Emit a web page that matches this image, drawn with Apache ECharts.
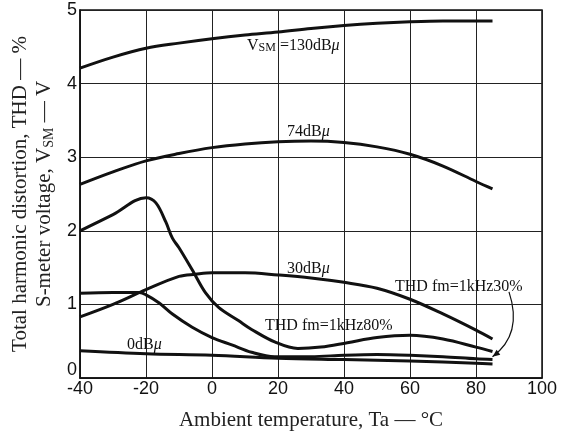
<!DOCTYPE html>
<html>
<head>
<meta charset="utf-8">
<script src="https://cdn.jsdelivr.net/npm/echarts@6/dist/echarts.min.js"></script>
<style>
  html, body { margin: 0; padding: 0; background: #fff; }
  #chart { width: 561px; height: 436px; }
</style>
</head>
<body>
<div id="chart"></div>
<script>
// axis ticks
const xTicks = [-40, -20, 0, 20, 40, 60, 80, 100]
const yTicks = [0, 1, 2, 3, 4, 5]

// V_SM at 130 dBu
const vsm130T = [-40, -30, -20, -10, 0, 10, 20, 30, 40, 50, 60, 70, 85]
const vsm130V = [4.21, 4.36, 4.48, 4.55, 4.61, 4.66, 4.70, 4.75, 4.79, 4.82, 4.84, 4.85, 4.85]

// V_SM at 74 dBu
const vsm74T = [-40, -30, -20, -10, 0, 10, 20, 30, 40, 50, 60, 70, 80, 85]
const vsm74V = [2.63, 2.80, 2.95, 3.05, 3.13, 3.18, 3.21, 3.22, 3.20, 3.14, 3.04, 2.88, 2.67, 2.57]

// V_SM at 30 dBu
const vsm30T = [-40, -30, -20, -10, -5, 0, 10, 20, 30, 40, 50, 60, 70, 80, 85]
const vsm30V = [0.83, 1.00, 1.20, 1.38, 1.41, 1.43, 1.43, 1.40, 1.36, 1.30, 1.22, 1.07, 0.87, 0.65, 0.53]

// V_SM at 0 dBu
const vsm0T = [-40, -20, 0, 20, 40, 60, 80, 85]
const vsm0V = [0.37, 0.33, 0.31, 0.27, 0.25, 0.23, 0.20, 0.19]

// THD fm=1kHz 80%
const thd80T = [-40, -30, -20, -17, -14, -12, -10, -6, -2, 2, 8, 12, 19, 26, 33, 41, 50, 60, 70, 80, 85]
const thd80V = [2.00, 2.22, 2.45, 2.38, 2.12, 1.90, 1.77, 1.47, 1.16, 0.96, 0.78, 0.66, 0.49, 0.40, 0.42, 0.48, 0.55, 0.58, 0.53, 0.42, 0.36]

// THD fm=1kHz 30%
const thd30T = [-40, -30, -22, -20, -16, -12, -6, 0, 6, 12, 19, 30, 40, 50, 60, 70, 80, 85]
const thd30V = [1.15, 1.16, 1.16, 1.13, 1.02, 0.87, 0.69, 0.55, 0.45, 0.35, 0.29, 0.29, 0.31, 0.32, 0.31, 0.29, 0.26, 0.25]

// arrow from the 30% label to its curve
const arrowFrom = [90, 1.17]
const arrowTo = [85, 0.29]

const pairs = (t, v) => t.map((x, i) => [x, v[i]])

const serif = 'Liberation Serif, Times New Roman, serif'
const sans = 'Liberation Sans Narrow, Liberation Sans, Arial, sans-serif'

const curve = (name, t, v) => ({
  name: name,
  type: 'line',
  data: pairs(t, v),
  smooth: 0.35,
  showSymbol: false,
  silent: true,
  lineStyle: { color: '#111', width: 3 },
})

const mu = { m: { fontFamily: serif, fontSize: 16, fontStyle: 'italic', fill: '#111' } }

const chart = echarts.init(document.getElementById('chart'))

const option = {
  animation: false,
  backgroundColor: '#fff',
  grid: {
    left: 80, right: 19, top: 10, bottom: 54,
    show: true, borderColor: '#111', borderWidth: 1.5,
  },
  xAxis: {
    type: 'value',
    min: -40, max: 100, interval: 20,
    name: 'Ambient temperature, Ta — °C',
    nameLocation: 'middle',
    nameGap: 32,
    nameTextStyle: { fontFamily: serif, fontSize: 21, color: '#222' },
    axisLine: { show: true, onZero: false, lineStyle: { color: '#111', width: 1.5 } },
    axisTick: { show: false },
    axisLabel: { fontFamily: sans, fontSize: 18, color: '#111', margin: 2 },
    splitLine: { show: true, lineStyle: { color: '#222', width: 1 } },
  },
  yAxis: {
    type: 'value',
    min: 0, max: 5, interval: 1,
    name: 'Total harmonic distortion, THD — %\nS-meter voltage, V{s|SM} — V',
    nameLocation: 'middle',
    nameGap: 17,
    nameTextStyle: {
      fontFamily: serif, fontSize: 21, color: '#222', lineHeight: 24,
      rich: { s: { fontFamily: serif, fontSize: 14, color: '#222', verticalAlign: 'bottom', lineHeight: 24 } },
    },
    axisLine: { show: true, onZero: false, lineStyle: { color: '#111', width: 1.5 } },
    axisTick: { show: false },
    axisLabel: {
      fontFamily: sans, fontSize: 18, color: '#111', margin: 3,
      formatter: (v) => (v === 0 ? '{z|0}' : String(v)),
      rich: { z: { fontFamily: sans, fontSize: 18, color: '#111', padding: [0, 0, 16, 0] } },
    },
    splitLine: { show: true, lineStyle: { color: '#222', width: 1 } },
  },
  series: [
    curve('130dBμ', vsm130T, vsm130V),
    curve('74dBμ', vsm74T, vsm74V),
    curve('30dBμ', vsm30T, vsm30V),
    curve('0dBμ', vsm0T, vsm0V),
    curve('THD 80%', thd80T, thd80V),
    curve('THD 30%', thd30T, thd30V),
  ],
  graphic: [
    {
      type: 'text', left: 247, top: 38, silent: true,
      style: {
        text: '{v|V}{s|SM}{v| =130dB}{m|μ}',
        rich: {
          v: { fontFamily: serif, fontSize: 16, fill: '#111' },
          s: { fontFamily: serif, fontSize: 12, fill: '#111', verticalAlign: 'bottom' },
          m: mu.m,
        },
      },
    },
    { type: 'text', left: 287, top: 124, silent: true, style: { text: '74dB{m|μ}', font: '16px ' + serif, fill: '#111', rich: mu } },
    { type: 'text', left: 287, top: 261, silent: true, style: { text: '30dB{m|μ}', font: '16px ' + serif, fill: '#111', rich: mu } },
    { type: 'text', left: 127, top: 337, silent: true, style: { text: '0dB{m|μ}', font: '16px ' + serif, fill: '#111', rich: mu } },
    { type: 'text', left: 265, top: 318, silent: true, style: { text: 'THD fm=1kHz80%', font: '16px ' + serif, fill: '#111' } },
    { type: 'text', left: 395, top: 279, silent: true, style: { text: 'THD fm=1kHz30%', font: '16px ' + serif, fill: '#111' } },
  ],
}

chart.setOption(option)

// curved leader arrow, placed through the chart's own scales
const p0 = chart.convertToPixel({ gridIndex: 0 }, arrowFrom)
const p1 = chart.convertToPixel({ gridIndex: 0 }, arrowTo)
const cp = [p0[0] + 14, (p0[1] + p1[1]) / 2 + 10]
const ang = Math.atan2(p1[1] - cp[1], p1[0] - cp[0])
const head = 8
const tip = p1
const b1 = [tip[0] - head * Math.cos(ang - 0.4), tip[1] - head * Math.sin(ang - 0.4)]
const b2 = [tip[0] - head * Math.cos(ang + 0.4), tip[1] - head * Math.sin(ang + 0.4)]

chart.setOption({
  graphic: option.graphic.concat([
    {
      type: 'bezierCurve', silent: true,
      shape: { x1: p0[0], y1: p0[1], x2: p1[0], y2: p1[1], cpx1: cp[0], cpy1: cp[1] },
      style: { stroke: '#111', lineWidth: 1.2, fill: null },
    },
    {
      type: 'polygon', silent: true,
      shape: { points: [tip, b1, b2] },
      style: { fill: '#111' },
    },
  ]),
})
</script>
</body>
</html>
